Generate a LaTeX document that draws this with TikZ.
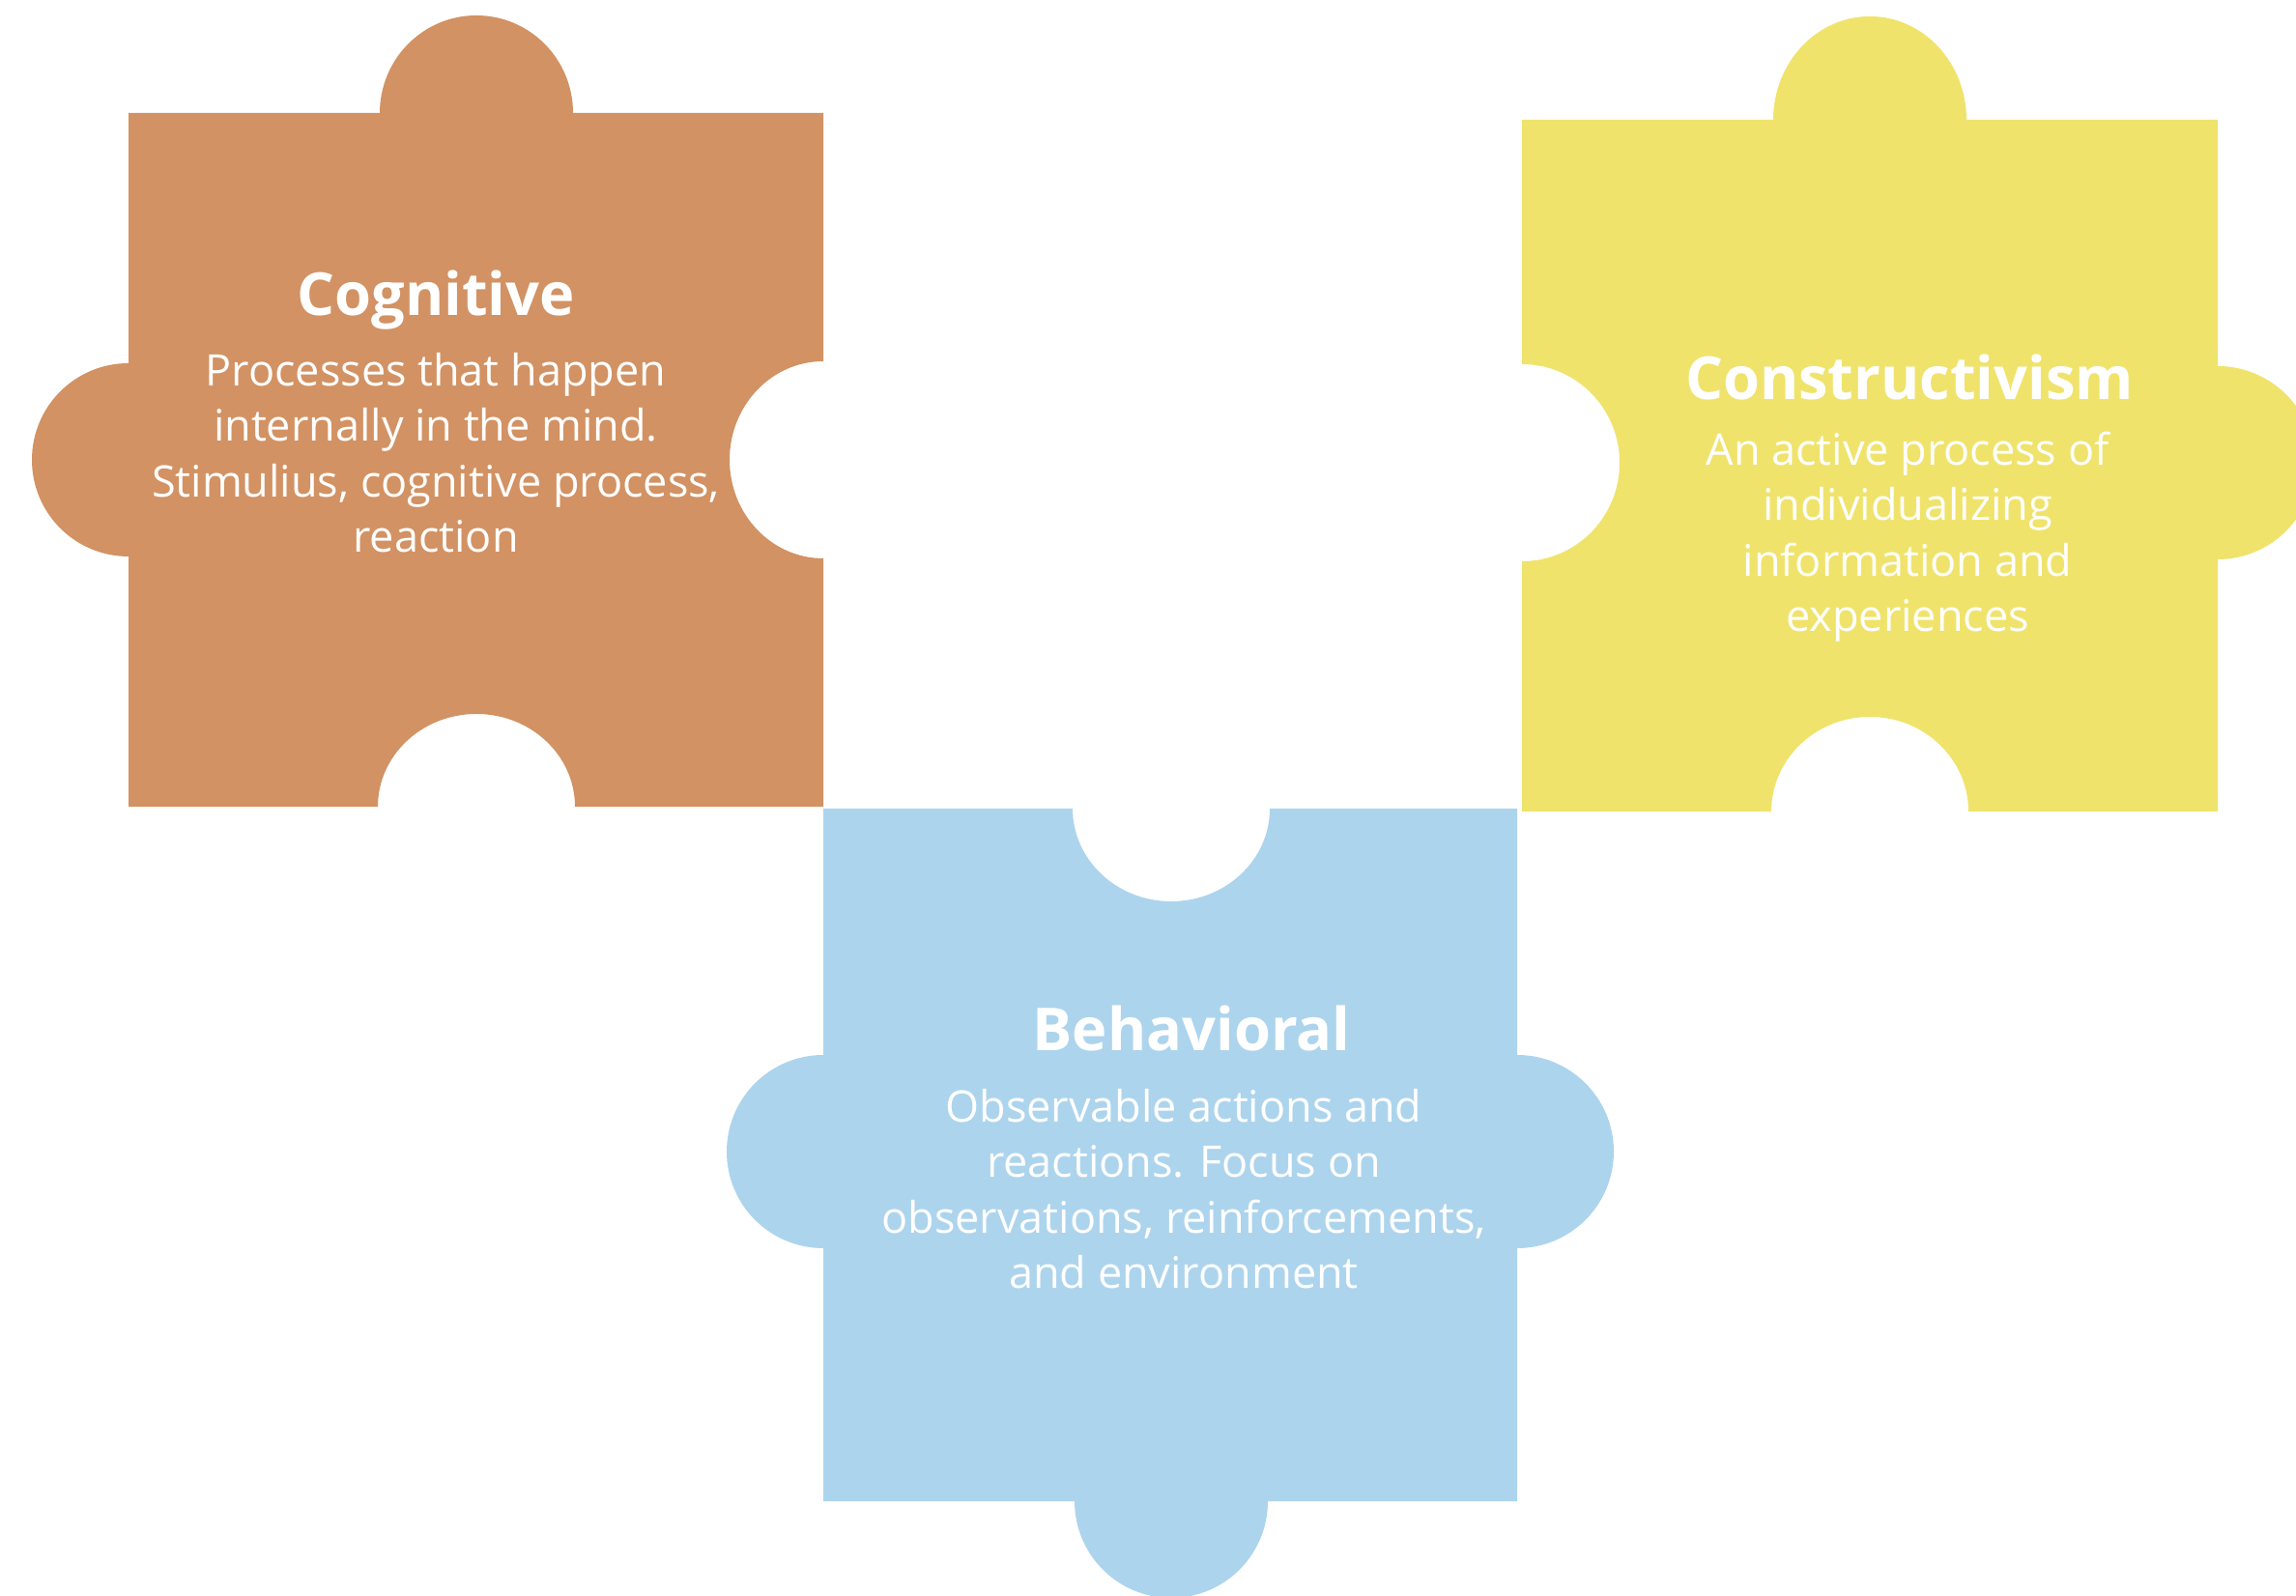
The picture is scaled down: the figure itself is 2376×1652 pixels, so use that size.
\documentclass[tikz,border=0pt]{standalone}
\usepackage{fontspec}
\setmainfont{Open Sans}
\definecolor{cogn}{HTML}{D29263}
\definecolor{cons}{HTML}{F0E36C}
\definecolor{behv}{HTML}{ADD4ED}
\begin{document}
\begin{tikzpicture}[x=0.3pt,y=0.3pt,
  titletext/.style={font=\bfseries\fontsize{18.4}{22}\selectfont, text=white, inner sep=0pt, anchor=base},
  bodytext/.style={font=\fontsize{13.5}{17.25}\selectfont, text=white, inner sep=0pt, align=center, anchor=base}]
\useasboundingbox (0,0) rectangle (2376,1652);
\clip (0,0) rectangle (2376,1652);
% Cognitive piece
\fill[cogn] (133,1535) -- (393,1535) arc[start angle=180, end angle=0, x radius=100, y radius=101]
  -- (852,1535) -- (852,1278) arc[start angle=90, end angle=270, x radius=97, y radius=102]
  -- (852,817) -- (595,817) arc[start angle=0, end angle=180, x radius=102, y radius=96]
  -- (133,817) -- (133,1076) arc[start angle=270, end angle=90, radius=100] -- cycle;
% Constructivism piece
\fill[cons] (1575,1528) -- (1835,1528) arc[start angle=180, end angle=0, x radius=100, y radius=107]
  -- (2295,1528) -- (2295,1273) arc[start angle=90, end angle=-90, radius=100]
  -- (2295,812) -- (2037,812) arc[start angle=0, end angle=180, x radius=102, y radius=98]
  -- (1575,812) -- (1575,1071) arc[start angle=-90, end angle=90, x radius=101, y radius=102] -- cycle;
% Behavioral piece
\fill[behv] (852,815) -- (1110,815) arc[start angle=180, end angle=360, x radius=102, y radius=96]
  -- (1570,815) -- (1570,560) arc[start angle=90, end angle=-90, radius=100]
  -- (1570,98) -- (1312,98) arc[start angle=0, end angle=-180, radius=100]
  -- (852,98) -- (852,360) arc[start angle=270, end angle=90, radius=100] -- cycle;
% Texts (body nodes anchored at the baseline of their last line)
\node[titletext] (cogT) at (451,1325) {Cognitive};
\node[bodytext] (cogB) at (451,1080) {Processes that happen\\internally in the mind.\\Stimulius, cognitive process,\\reaction};
\node[titletext] (conT) at (1976,1238) {Constructivism};
\node[bodytext] (conB) at (1974,998) {An active process of\\individualizing\\information and\\experiences};
\node[titletext] (behT) at (1233,564) {Behavioral};
\node[bodytext] (behB) at (1225,318) {Observable actions and\\reactions. Focus on\\observations, reinforcements,\\and environment};
\end{tikzpicture}
\end{document}
